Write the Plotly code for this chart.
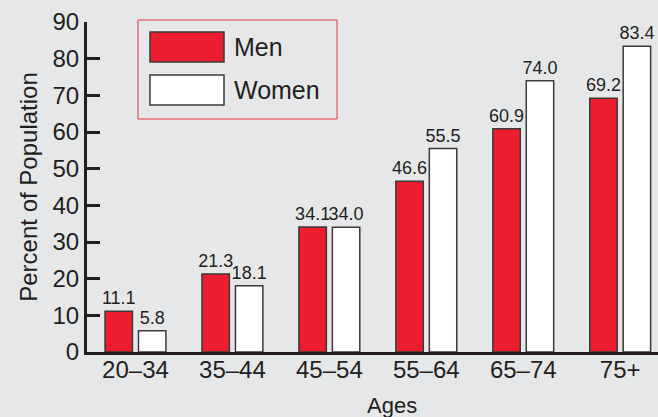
import plotly.graph_objects as go

ages = ["20–34", "35–44", "45–54", "55–64", "65–74", "75+"]
men = [11.1, 21.3, 34.1, 46.6, 60.9, 69.2]
women = [5.8, 18.1, 34.0, 55.5, 74.0, 83.4]
y_ticks = [0, 10, 20, 30, 40, 50, 60, 70, 80, 90]

W, H = 658, 417
L, R, T, B = 87, 0, 22, 65
INK = "#231f20"
RED = "#ed1c2e"
BG = "#e6e7e9"


def px(x):
    return (x - L) / (W - L - R)


def py(y):
    return (H - B - y) / (H - T - B)


fig = go.Figure()

fig.add_trace(
    go.Bar(
        x=ages,
        y=men,
        name="Men",
        marker=dict(color=RED, line=dict(color="#3a3a3a", width=1.5)),
        text=[f"{v:.1f}" for v in men],
        textposition="outside",
        constraintext="none",
        cliponaxis=False,
        textfont=dict(family="Liberation Sans", size=18, color=INK),
    )
)

fig.add_trace(
    go.Bar(
        x=ages,
        y=women,
        name="Women",
        marker=dict(color="white", line=dict(color="#3a3a3a", width=1.5)),
        text=[f"{v:.1f}" for v in women],
        textposition="outside",
        constraintext="none",
        cliponaxis=False,
        textfont=dict(family="Liberation Sans", size=18, color=INK),
    )
)

# hand-drawn legend box with large swatches
shapes = [
    dict(type="rect", xref="paper", yref="paper",
         x0=px(138), x1=px(337), y0=py(119), y1=py(20),
         line=dict(color="#e8343e", width=1), fillcolor="rgba(0,0,0,0)"),
    dict(type="rect", xref="paper", yref="paper",
         x0=px(150), x1=px(224), y0=py(62), y1=py(32),
         line=dict(color="#3a3a3a", width=1.5), fillcolor=RED),
    dict(type="rect", xref="paper", yref="paper",
         x0=px(150), x1=px(224), y0=py(105), y1=py(75),
         line=dict(color="#3a3a3a", width=1.5), fillcolor="white"),
]

annotations = [
    dict(text="Men", xref="paper", yref="paper", x=px(232), y=py(47),
         xanchor="left", yanchor="middle", showarrow=False,
         font=dict(family="Liberation Sans", size=25, color=INK)),
    dict(text="Women", xref="paper", yref="paper", x=px(232), y=py(90),
         xanchor="left", yanchor="middle", showarrow=False,
         font=dict(family="Liberation Sans", size=25, color=INK)),
    dict(text="Ages", xref="paper", yref="paper", x=px(392), y=py(405),
         xanchor="center", yanchor="middle", showarrow=False,
         font=dict(family="Liberation Sans", size=22, color=INK)),
]

fig.update_layout(
    width=W,
    height=H,
    margin=dict(l=L, r=R, t=T, b=B, pad=0),
    paper_bgcolor=BG,
    plot_bgcolor=BG,
    barmode="group",
    bargap=0.31,
    bargroupgap=0.18,
    showlegend=False,
    shapes=shapes,
    annotations=annotations,
    font=dict(family="Liberation Sans", color=INK),
    xaxis=dict(
        range=[-0.5, 5.39],
        showline=True,
        linecolor=INK,
        linewidth=3,
        ticks="",
        showgrid=False,
        ticklabelstandoff=-6,
        tickfont=dict(size=24, color=INK),
    ),
    yaxis=dict(
        range=[0, 90],
        tickvals=y_ticks,
        showline=True,
        linecolor=INK,
        linewidth=3,
        ticks="inside",
        ticklen=13,
        tickwidth=3,
        tickcolor=INK,
        showgrid=False,
        zeroline=False,
        tickfont=dict(size=24, color=INK),
        title=dict(text="Percent of Population", font=dict(size=24, color=INK), standoff=9),
    ),
)

fig.write_html(
    "out.html",
    config={"displayModeBar": False},
    post_script="document.body.style.margin='0';",
)
